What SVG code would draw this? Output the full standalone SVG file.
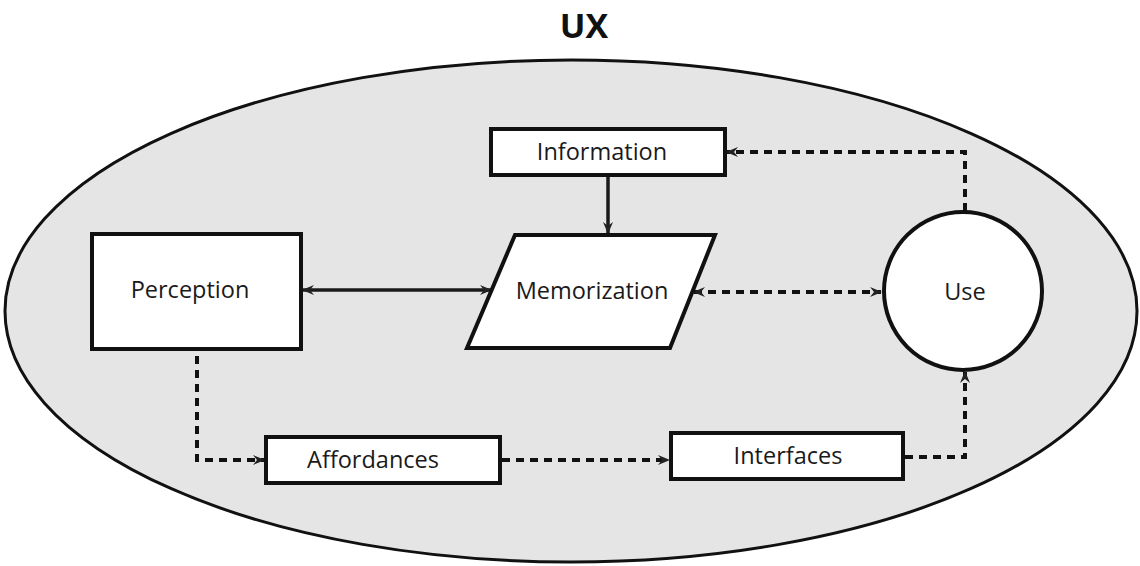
<svg xmlns="http://www.w3.org/2000/svg" width="1140" height="566" viewBox="0 0 1140 566">
<defs>
<style>
.box{fill:#fff;stroke:#111;stroke-width:4}
.lbl{font-family:"Open Sans","Noto Sans","Liberation Sans",sans-serif;font-size:23.5px;fill:#1a1a1a;text-anchor:middle}
.solid{fill:none;stroke:#1a1a1a;stroke-width:3.5}
.dash{fill:none;stroke:#111;stroke-width:4;stroke-dasharray:8 6}
</style>
<marker id="ah" viewBox="0 0 12 12" refX="11" refY="6" markerWidth="12" markerHeight="12" markerUnits="userSpaceOnUse" orient="auto-start-reverse">
<path d="M0,1 L12,6 L0,11 L4,6 z" fill="#222"/>
</marker>
</defs>
<rect width="1140" height="566" fill="#fff"/>
<text x="584" y="38" style="font-family:'Open Sans','Noto Sans','Liberation Sans',sans-serif;font-size:34px;font-weight:bold;fill:#111;text-anchor:middle">UX</text>
<g id="ux-boundary">
<ellipse cx="571" cy="311" rx="566" ry="251" fill="#e5e5e5" stroke="#111" stroke-width="3"/>
</g>
<g id="connectors">
<line class="solid" x1="608" y1="177" x2="608" y2="233" marker-end="url(#ah)"/>
<line class="solid" x1="303" y1="290" x2="491" y2="290" marker-start="url(#ah)" marker-end="url(#ah)"/>
<line class="dash" x1="694" y1="292" x2="881" y2="292" marker-start="url(#ah)" marker-end="url(#ah)"/>
<polyline class="dash" points="965,211 965,152 727,152" marker-end="url(#ah)"/>
<polyline class="dash" points="197,356 197,460 264,460" marker-end="url(#ah)"/>
<line class="dash" x1="502" y1="460" x2="669" y2="460" marker-end="url(#ah)"/>
<polyline class="dash" points="905,457 965,457 965,372" marker-end="url(#ah)"/>
</g>
<g id="information">
<rect class="box" x="491" y="129" width="234" height="46"/>
<text class="lbl" x="602" y="160">Information</text>
</g>
<g id="perception">
<rect class="box" x="92" y="234" width="209" height="115"/>
<text class="lbl" x="190" y="298">Perception</text>
</g>
<g id="memorization">
<polygon class="box" points="515,235 715,235 670,348 467,348"/>
<text class="lbl" x="592" y="299">Memorization</text>
</g>
<g id="use">
<circle class="box" cx="963" cy="291" r="79"/>
<text class="lbl" x="965" y="300">Use</text>
</g>
<g id="affordances">
<rect class="box" x="266" y="437" width="234" height="46"/>
<text class="lbl" x="373" y="468">Affordances</text>
</g>
<g id="interfaces">
<rect class="box" x="671" y="433" width="232" height="46"/>
<text class="lbl" x="788" y="464">Interfaces</text>
</g>
</svg>
